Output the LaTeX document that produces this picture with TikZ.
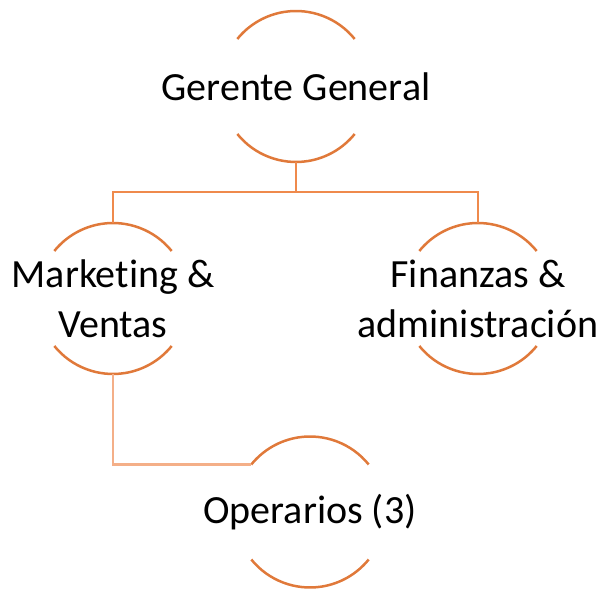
\documentclass[tikz,border=0pt]{standalone}
\usepackage{fontspec}
\setmainfont{Carlito}[Ligatures=CommonOff]
\usetikzlibrary{positioning}
\definecolor{ringorange}{HTML}{E0793A}
\definecolor{linkorange}{HTML}{EF8A4C}
\definecolor{paleorange}{HTML}{F4AF88}

\tikzset{
  unit/.style={circle, minimum size=151pt, inner sep=0pt, outer sep=0pt},
  unittext/.style={font=\fontsize{40}{50}\selectfont, align=center, text=black},
  ring/.style={draw=ringorange, line width=2.5pt},
  link/.style={draw=linkorange, line width=2.5pt},
  palelink/.style={draw=paleorange, line width=2.5pt}
}

\begin{document}
\begin{tikzpicture}[x=1pt, y=1pt]
  \useasboundingbox (0,0) rectangle (600,589);

  % the four units of the org chart
  \node[unit, label={[unittext]center:Gerente General}] (gm) at (296,502.5) {};
  \node[unit, label={[unittext]center:Marketing \&\\Ventas}] (mv) at (113,290.5) {};
  \node[unit, label={[unittext]center:Finanzas \&\\administración}] (fa) at (478,290.5) {};
  \node[unit, label={[unittext]center:Operarios (3)}] (op) at (310,77) {};

  % open rings: only the top and bottom arcs are drawn
  \foreach \u in {gm, mv, fa, op} {
    \draw[ring] (\u.39) arc[start angle=39, end angle=141, radius=75.5pt];
    \draw[ring] (\u.219) arc[start angle=219, end angle=321, radius=75.5pt];
  }

  % connectors
  \draw[link] (gm.south) -- ++(0,-30) -| (mv.north);
  \draw[link] (gm.south) -- ++(0,-30) -| (fa.north);
  \draw[palelink] (mv.south) |- (op.141);
\end{tikzpicture}
\end{document}
